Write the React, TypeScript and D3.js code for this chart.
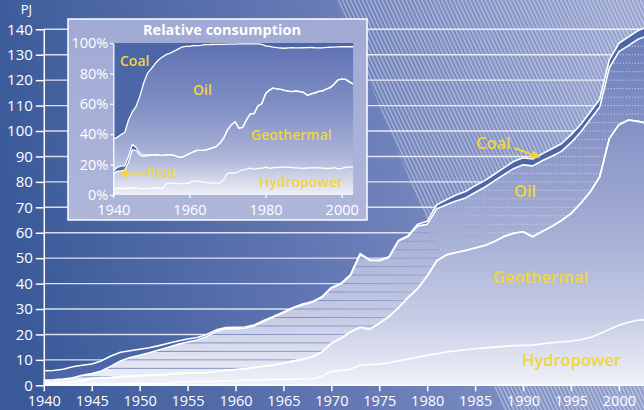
import * as d3 from "d3";
import { useEffect, useRef } from "react";

// Energy use by source, PJ, 1940-2003
const years = d3.range(1940, 2004);

const hydropower = [
  0.2, 0.25, 0.3, 0.3, 0.35, 0.4, 0.45, 0.5, 0.55, 0.6,
  0.65, 0.7, 0.7, 0.75, 1.3, 1.4, 1.45, 1.5, 1.6, 1.7,
  1.8, 2.1, 2.2, 2.2, 2.3, 2.3, 2.4, 2.5, 2.6, 3.5,
  5.5, 5.8, 6.3, 8.0, 8.2, 8.4, 8.9, 9.6, 10.3, 11.1,
  11.8, 12.4, 13.1, 13.5, 14.0, 14.4, 14.7, 15.0, 15.3, 15.6,
  15.7, 15.8, 16.3, 16.8, 17.0, 17.4, 17.9, 18.8, 20.3, 22.0,
  23.6, 24.8, 25.6, 25.8,
];

const geothermal = [
  0.6, 0.65, 0.7, 0.9, 1.35, 2.1, 2.35, 2.5, 2.75, 2.9,
  3.05, 3.2, 3.4, 3.55, 3.3, 3.4, 3.45, 3.5, 3.8, 4.2,
  4.4, 4.4, 4.8, 5.3, 5.7, 6.4, 7.1, 7.7, 8.6, 9.5,
  11.0, 12.7, 14.7, 14.8, 13.8, 16.0, 18.1, 20.9, 24.2, 26.9,
  31.2, 36.6, 38.2, 38.7, 39.0, 39.6, 40.3, 41.5, 43.2, 44.2,
  44.7, 42.6, 44.2, 45.7, 47.8, 50.1, 53.6, 57.2, 61.7, 75.0,
  78.9, 79.5, 78.2, 77.2,
];

const peat = [
  0.1, 0.15, 0.2, 0.2, 0.3, 0.3, 0.2, 0.15, 0.1, 0.1,
  0.05, 0.05, 0, 0, 0, 0, 0, 0, 0, 0,
  0, 0, 0, 0, 0, 0, 0, 0, 0, 0,
  0, 0, 0, 0, 0, 0, 0, 0, 0, 0,
  0, 0, 0, 0, 0, 0, 0, 0, 0, 0,
  0, 0, 0, 0, 0, 0, 0, 0, 0, 0,
  0, 0, 0, 0,
];

const oil = [
  1.2, 1.15, 1.3, 1.6, 1.9, 1.8, 2.6, 4.35, 6.2, 7.3,
  8.05, 8.85, 9.8, 10.7, 11.5, 12.2, 12.9, 14.2, 15.8, 16.3,
  16.1, 16.0, 16.4, 17.7, 18.9, 19.8, 20.8, 21.5, 21.4, 21.5,
  21.7, 21.3, 22.2, 28.7, 27.1, 24.6, 23.2, 26.2, 24.0, 24.7,
  20.3, 20.4, 19.7, 20.3, 20.7, 21.8, 22.9, 23.9, 24.3, 25.4,
  26.3, 27.9, 27.8, 27.6, 27.2, 27.9, 28.0, 28.5, 27.4, 27.8,
  28.7, 29.3, 32.3, 34.5,
];

const coal = [
  3.6, 3.6, 3.8, 4.3, 4.0, 3.8, 4.0, 4.0, 3.4, 2.7,
  2.4, 2.0, 1.7, 1.5, 1.3, 1.2, 1.0, 0.8, 0.6, 0.5,
  0.5, 0.4, 0.4, 0.4, 0.3, 0.3, 0.3, 0.3, 0.3, 0.3,
  0.3, 0.3, 0.3, 0.3, 0.3, 0.3, 0.3, 0.3, 0.3, 0.6,
  1.2, 1.6, 2.0, 2.3, 2.5, 2.7, 2.6, 2.6, 2.7, 2.8,
  2.8, 2.7, 2.7, 2.9, 3.0, 3.1, 3.0, 3.0, 3.1, 3.2,
  3.3, 3.4, 3.4, 3.5,
];

const keys = ["hydropower", "geothermal", "peat", "oil", "coal"];
const yTicks = [0, 10, 20, 30, 40, 50, 60, 70, 80, 90, 100, 110, 120, 130, 140];
const xTicks = [1940, 1945, 1950, 1955, 1960, 1965, 1970, 1975, 1980, 1985, 1990, 1995, 2000];
const insetYTicks = [0, 0.2, 0.4, 0.6, 0.8, 1];
const insetXTicks = [1940, 1960, 1980, 2000];

const W = 644;
const H = 410;
const YELLOW = "#f2d53c";
const DARK = "#4c66a8";
const FONT = "'Open Sans', 'DejaVu Sans', sans-serif";

function arrow(g: any, x0: number, y0: number, x1: number, y1: number, head: number, half: number) {
  const a = Math.atan2(y1 - y0, x1 - x0);
  const bx = x1 - head * Math.cos(a);
  const by = y1 - head * Math.sin(a);
  g.append("line")
    .attr("x1", x0).attr("y1", y0).attr("x2", bx).attr("y2", by)
    .attr("stroke", YELLOW).attr("stroke-width", 2);
  const px = -Math.sin(a) * half;
  const py = Math.cos(a) * half;
  g.append("polygon")
    .attr("points", `${x1},${y1} ${bx + px},${by + py} ${bx - px},${by - py}`)
    .attr("fill", YELLOW);
}

export default function App() {
  const ref = useRef<SVGSVGElement>(null);

  useEffect(() => {
    if (!ref.current) return;
    const svg = d3.select(ref.current);
    svg.selectAll("*").remove();
    svg.attr("font-family", FONT);

    const rows = years.map((year, i) => ({
      year,
      hydropower: hydropower[i],
      geothermal: geothermal[i],
      peat: peat[i],
      oil: oil[i],
      coal: coal[i],
    }));
    const layers = d3.stack<any>().keys(keys)(rows);
    const shares = d3.stack<any>().keys(keys).offset(d3.stackOffsetExpand)(rows);

    const x = d3.scaleLinear().domain([1940, 2000]).range([43.8, 618.9]);
    const y = d3.scaleLinear().domain([0, 140]).range([385.3, 29.3]);

    const defs = svg.append("defs");

    const bg = defs.append("linearGradient").attr("id", "bg")
      .attr("x1", 0).attr("y1", 0.55).attr("x2", 1).attr("y2", 0.45);
    bg.append("stop").attr("offset", 0).attr("stop-color", "#395998");
    bg.append("stop").attr("offset", 0.5).attr("stop-color", "#6478b4");
    bg.append("stop").attr("offset", 1).attr("stop-color", "#95a2cf");

    const areaGrad = defs.append("linearGradient").attr("id", "areaGrad")
      .attr("gradientUnits", "userSpaceOnUse")
      .attr("x1", 0).attr("y1", 29).attr("x2", 0).attr("y2", 386);
    [[0, "#6b7ebb"], [0.3, "#8794c6"], [0.6, "#a9b2d7"], [0.82, "#c8cee6"], [1, "#f1f2f8"]]
      .forEach(([o, c]) => areaGrad.append("stop").attr("offset", o).attr("stop-color", c));

    const fade = defs.append("linearGradient").attr("id", "stripeFade")
      .attr("gradientUnits", "userSpaceOnUse")
      .attr("x1", 43).attr("y1", 0).attr("x2", 520).attr("y2", 0);
    fade.append("stop").attr("offset", 0).attr("stop-color", "#4a62a6").attr("stop-opacity", 0.75);
    fade.append("stop").attr("offset", 0.6).attr("stop-color", "#4a62a6").attr("stop-opacity", 0.5);
    fade.append("stop").attr("offset", 1).attr("stop-color", "#4a62a6").attr("stop-opacity", 0);

    const hatch = defs.append("pattern").attr("id", "hatch")
      .attr("patternUnits", "userSpaceOnUse")
      .attr("width", 3.6).attr("height", 12)
      .attr("patternTransform", "rotate(-25)");
    hatch.append("rect").attr("width", 1.4).attr("height", 12)
      .attr("fill", "#ffffff").attr("fill-opacity", 0.4);

    const wedge = "M336,0 L644,0 L644,410 L504,410 Z";
    defs.append("clipPath").attr("id", "wedgeClip").append("path").attr("d", wedge);

    const area = d3.area<any>()
      .x((d) => x(d.data.year))
      .y0((d) => y(d[0]))
      .y1((d) => y(d[1]));
    const line = d3.line<any>()
      .x((d) => x(d.data.year))
      .y((d) => y(d[1]));

    const oilLayer = layers.find((l) => l.key === "oil")!;
    defs.append("clipPath").attr("id", "oilClip").append("path").attr("d", area(oilLayer));

    // background
    svg.append("rect").attr("width", W).attr("height", H).attr("fill", "url(#bg)");
    svg.append("path").attr("d", wedge).attr("fill", "url(#hatch)");

    // grid
    svg.append("g")
      .selectAll("line")
      .data(yTicks.slice(1))
      .join("line")
      .attr("x1", x(1940)).attr("x2", W)
      .attr("y1", (d) => y(d)).attr("y2", (d) => y(d))
      .attr("stroke", "#ffffff").attr("stroke-opacity", 0.8).attr("stroke-width", 1.4);

    // stacked areas
    svg.append("g")
      .selectAll("path")
      .data(layers)
      .join("path")
      .attr("d", area)
      .attr("fill", (d) => (d.key === "coal" || d.key === "peat" ? DARK : "url(#areaGrad)"));

    // fine horizontal rules inside the oil band
    const rules = d3.range(1, 43).map((k) => (k * 10) / 3);
    svg.append("g").attr("clip-path", "url(#oilClip)")
      .selectAll("line")
      .data(rules)
      .join("line")
      .attr("x1", x(1940)).attr("x2", W)
      .attr("y1", (d) => y(d)).attr("y2", (d) => y(d))
      .attr("stroke", "url(#stripeFade)").attr("stroke-width", 1);
    svg.append("g").attr("clip-path", "url(#oilClip)")
      .append("g").attr("clip-path", "url(#wedgeClip)")
      .selectAll("line")
      .data(rules)
      .join("line")
      .attr("x1", x(1940)).attr("x2", W)
      .attr("y1", (d) => y(d)).attr("y2", (d) => y(d))
      .attr("stroke", "#dfe3f3").attr("stroke-opacity", 0.75)
      .attr("stroke-width", 1).attr("stroke-dasharray", "1.2 1.8");

    // boundaries
    svg.append("g")
      .selectAll("path")
      .data(layers)
      .join("path")
      .attr("d", line)
      .attr("fill", "none")
      .attr("stroke", "#ffffff")
      .attr("stroke-width", 1.6)
      .attr("stroke-linejoin", "round");

    // axes
    svg.append("line")
      .attr("x1", x(1940)).attr("x2", W).attr("y1", y(0)).attr("y2", y(0))
      .attr("stroke", "#ffffff").attr("stroke-width", 1.5);

    svg.append("g")
      .attr("transform", `translate(${x(1940)},0)`)
      .call(d3.axisLeft(y).tickValues(yTicks).tickSize(8).tickSizeOuter(0).tickPadding(3))
      .call((g) => g.select(".domain").attr("stroke", "#ffffff").attr("stroke-width", 1.5))
      .call((g) => g.selectAll(".tick line").attr("stroke", "#ffffff").attr("stroke-width", 1.5))
      .call((g) =>
        g.selectAll("text").attr("fill", "#ffffff").attr("font-size", 15).attr("font-family", FONT)
      );

    svg.append("g")
      .attr("transform", `translate(0,${y(0)})`)
      .call(
        d3.axisBottom(x).tickValues(xTicks).tickFormat(d3.format("d"))
          .tickSize(6).tickSizeOuter(0).tickPadding(4)
      )
      .call((g) => g.select(".domain").remove())
      .call((g) => g.selectAll(".tick line").attr("stroke", "#ffffff").attr("stroke-width", 1.5))
      .call((g) =>
        g.selectAll("text").attr("fill", "#ffffff").attr("font-size", 14.5).attr("font-family", FONT)
      );

    svg.append("text")
      .attr("x", 32).attr("y", 14).attr("text-anchor", "end")
      .attr("fill", "#ffffff").attr("font-size", 13).text("PJ");

    // series labels
    const lab = svg.append("g").attr("fill", YELLOW).attr("font-size", 16.5).attr("font-weight", 600);
    lab.append("text").attr("x", 476).attr("y", 149).text("Coal");
    lab.append("text").attr("x", 514).attr("y", 197).text("Oil");
    lab.append("text").attr("x", 493).attr("y", 283).text("Geothermal");
    lab.append("text").attr("x", 522).attr("y", 366).text("Hydropower");
    arrow(svg.append("g"), 514, 148, x(1991.8), y(89.6), 9, 4.5);

    // inset: relative consumption
    const inset = svg.append("g");
    const ix = d3.scaleLinear().domain([1940, 2000]).range([113.3, 341.7]);
    const iy = d3.scaleLinear().domain([0, 1]).range([195, 43]);

    const boxGrad = defs.append("linearGradient").attr("id", "boxGrad")
      .attr("x1", 0).attr("y1", 0).attr("x2", 0).attr("y2", 1);
    boxGrad.append("stop").attr("offset", 0).attr("stop-color", "#a0aad4");
    boxGrad.append("stop").attr("offset", 1).attr("stop-color", "#aeb6da");

    const insetGrad = defs.append("linearGradient").attr("id", "insetGrad")
      .attr("gradientUnits", "userSpaceOnUse")
      .attr("x1", 0).attr("y1", 43).attr("x2", 0).attr("y2", 195);
    [[0, "#5e71b2"], [0.45, "#8492c6"], [0.75, "#acb4d8"], [1, "#eef0f7"]]
      .forEach(([o, c]) => insetGrad.append("stop").attr("offset", o).attr("stop-color", c));

    inset.append("rect")
      .attr("x", 68).attr("y", 19).attr("width", 299).attr("height", 201)
      .attr("fill", "url(#boxGrad)").attr("stroke", "#ffffff").attr("stroke-width", 1.5);

    const iarea = d3.area<any>()
      .x((d) => ix(d.data.year))
      .y0((d) => iy(d[0]))
      .y1((d) => iy(d[1]));
    const iline = d3.line<any>()
      .x((d) => ix(d.data.year))
      .y((d) => iy(d[1]));

    inset.append("g")
      .selectAll("path")
      .data(shares)
      .join("path")
      .attr("d", iarea)
      .attr("fill", (d) => (d.key === "coal" || d.key === "peat" ? DARK : "url(#insetGrad)"));

    inset.append("g")
      .selectAll("path")
      .data(shares.filter((s) => s.key !== "coal"))
      .join("path")
      .attr("d", iline)
      .attr("fill", "none")
      .attr("stroke", "#ffffff")
      .attr("stroke-width", 1.3)
      .attr("stroke-linejoin", "round");

    inset.append("g")
      .attr("transform", `translate(${ix(1940)},0)`)
      .call(
        d3.axisLeft(iy).tickValues(insetYTicks).tickFormat(d3.format(".0%"))
          .tickSize(3).tickSizeOuter(0).tickPadding(2)
      )
      .call((g) => g.select(".domain").attr("stroke", "#ffffff").attr("stroke-width", 1.3))
      .call((g) => g.selectAll(".tick line").attr("stroke", "#ffffff").attr("stroke-width", 1.3))
      .call((g) =>
        g.selectAll("text").attr("fill", "#ffffff").attr("font-size", 14.5).attr("font-family", FONT)
      );

    inset.append("g")
      .attr("transform", `translate(0,${iy(0)})`)
      .call(
        d3.axisBottom(ix).tickValues(insetXTicks).tickFormat(d3.format("d"))
          .tickSize(3).tickSizeOuter(0).tickPadding(7)
      )
      .call((g) => g.select(".domain").remove())
      .call((g) => g.selectAll(".tick line").attr("stroke", "#ffffff").attr("stroke-width", 1.3))
      .call((g) =>
        g.selectAll("text").attr("fill", "#ffffff").attr("font-size", 14.5).attr("font-family", FONT)
      );

    inset.append("text")
      .attr("x", 222).attr("y", 35).attr("text-anchor", "middle")
      .attr("fill", "#ffffff").attr("font-size", 14.5).attr("font-weight", 700)
      .text("Relative consumption");

    const ilab = inset.append("g").attr("fill", YELLOW).attr("font-size", 14).attr("font-weight", 600);
    ilab.append("text").attr("x", 120).attr("y", 66).text("Coal");
    ilab.append("text").attr("x", 193).attr("y", 95).text("Oil");
    ilab.append("text").attr("x", 251).attr("y", 140).text("Geothermal");
    ilab.append("text").attr("x", 146).attr("y", 178).text("Peat");
    ilab.append("text").attr("x", 259).attr("y", 187).text("Hydropower");
    arrow(inset.append("g"), 145, 173.5, 119, 173.5, 9, 4.5);
  }, []);

  return (
    <div style={{ position: "absolute", left: 0, top: 0 }}>
      <svg ref={ref} width={W} height={H} style={{ display: "block" }} role="img" aria-label="Energy consumption" />
    </div>
  );
}
